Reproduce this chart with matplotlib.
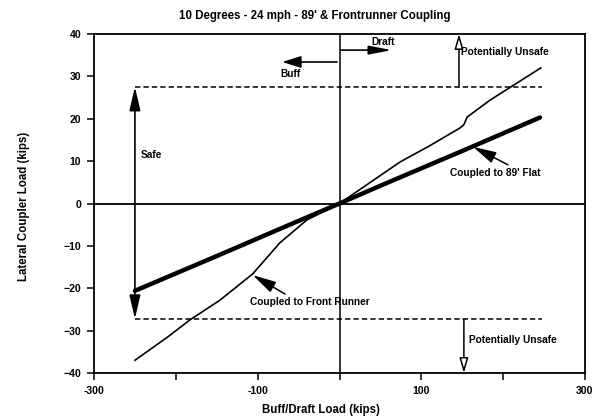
import matplotlib
matplotlib.use("Agg")
import matplotlib.pyplot as plt

plt.rcParams['font.family'] = ['Liberation Sans', 'DejaVu Sans']
plt.rcParams['font.weight'] = 'bold'

title = "10 Degrees - 24 mph - 89' & Frontrunner Coupling"
xlabel = "Buff/Draft Load (kips)"
ylabel = "Lateral Coupler Load (kips)"

# Coupled to 89' Flat (thick)
flat_x = [-250, -150, -50, 0, 50, 150, 245]
flat_y = [-20.6, -12.4, -4.1, 0, 4.2, 12.4, 20.3]

# Coupled to Front Runner (thin)
fr_x = [-250, -210, -183, -146, -106, -73, -40, 0, 40, 74, 110, 147, 152, 156, 184, 246]
fr_y = [-37.0, -31.5, -27.5, -22.8, -16.6, -9.3, -3.9, 0, 5.3, 9.8, 13.6, 17.8, 18.6, 20.4, 24.4, 32.0]

safe_upper = 27.5
safe_lower = -27.2
limit_x = [-250, 248]

xticks = [-300, -200, -100, 0, 100, 200, 300]
xticklabels = ["-300", "", "-100", "", "100", "", "300"]
yticks = [-40, -30, -20, -10, 0, 10, 20, 30, 40]

fig = plt.figure(figsize=(5.96, 4.19), dpi=100)
ax = fig.add_axes([94/596, 1-373/419, (585-94)/596, (373-34)/419])
ax.set_xlim(-300, 300)
ax.set_ylim(-40, 40)

for s in ax.spines.values():
    s.set_linewidth(1.3)

ax.axhline(0, color='black', lw=1.3)
ax.axvline(0, color='black', lw=1.1)

ax.plot(limit_x, [safe_upper]*2, color='black', lw=1.1, ls=(0, (3.5, 2)))
ax.plot(limit_x, [safe_lower]*2, color='black', lw=1.1, ls=(0, (3.5, 2)))

ax.plot(flat_x, flat_y, color='black', lw=3.2, solid_capstyle='round')
ax.plot(fr_x, fr_y, color='black', lw=1.2)

ax.set_xticks(xticks)
ax.set_xticklabels(xticklabels)
ax.set_yticks(yticks)
ax.tick_params(direction='out', length=5, width=1.1, labelsize=7.6, pad=4)

fig.text(315/596, 1-16/419, title, ha='center', va='center', fontsize=8.3)
fig.text(321/596, 1-410/419, xlabel, ha='center', va='center', fontsize=8.3)
fig.text(24/596, 1-206/419, ylabel, ha='center', va='center', fontsize=8.3, rotation=90)

ann_fs = 7.3

# Safe double arrow
ax.annotate('', xy=(-250, safe_upper), xytext=(-250, safe_lower),
            arrowprops=dict(arrowstyle='<|-|>,head_length=1.2,head_width=0.28', color='black', lw=1.2,
                            mutation_scale=12, shrinkA=0, shrinkB=0))
ax.text(-243, 11.4, "Safe", fontsize=ann_fs, ha='left', va='center')

# Buff / Draft arrows
ax.annotate('', xy=(-70, 33.4), xytext=(-3, 33.4),
            arrowprops=dict(arrowstyle='-|>,head_length=0.95,head_width=0.3', color='black', lw=1.2,
                            mutation_scale=12, shrinkA=0, shrinkB=0))
ax.text(-72, 30.6, "Buff", fontsize=ann_fs, ha='left', va='center')
ax.annotate('', xy=(64, 36.2), xytext=(2, 36.2),
            arrowprops=dict(arrowstyle='-|>,head_length=1.15,head_width=0.22', color='black', lw=1.2,
                            mutation_scale=12, shrinkA=0, shrinkB=0))
ax.text(39, 38.2, "Draft", fontsize=ann_fs, ha='left', va='center')

# Potentially Unsafe arrows (hollow heads)
ax.annotate('', xy=(146, 40), xytext=(146, safe_upper),
            arrowprops=dict(arrowstyle='-|>,head_length=0.75,head_width=0.22', edgecolor='black',
                            facecolor='white', lw=1.1, mutation_scale=12, shrinkA=0, shrinkB=0))
ax.text(149, 35.8, "Potentially Unsafe", fontsize=ann_fs, ha='left', va='center')
ax.annotate('', xy=(152, -40), xytext=(152, safe_lower),
            arrowprops=dict(arrowstyle='-|>,head_length=0.75,head_width=0.22', edgecolor='black',
                            facecolor='white', lw=1.1, mutation_scale=12, shrinkA=0, shrinkB=0))
ax.text(158, -32.2, "Potentially Unsafe", fontsize=ann_fs, ha='left', va='center')

# Curve labels
ax.annotate("Coupled to 89' Flat", xy=(163, 13.4), xytext=(135, 7.3),
            fontsize=ann_fs, ha='left', va='center',
            arrowprops=dict(arrowstyle='-|>,head_length=1.2,head_width=0.3', color='black', lw=1.1,
                            mutation_scale=12, shrinkA=0, shrinkB=0,
                            relpos=(0.7, 1.0)))
ax.annotate("Coupled to Front Runner", xy=(-106, -16.9), xytext=(-109, -23.2),
            fontsize=ann_fs, ha='left', va='center',
            arrowprops=dict(arrowstyle='-|>,head_length=1.2,head_width=0.3', color='black', lw=1.1,
                            mutation_scale=12, shrinkA=0, shrinkB=0,
                            relpos=(0.33, 1.0)))

fig.savefig('out.png', dpi=100)
